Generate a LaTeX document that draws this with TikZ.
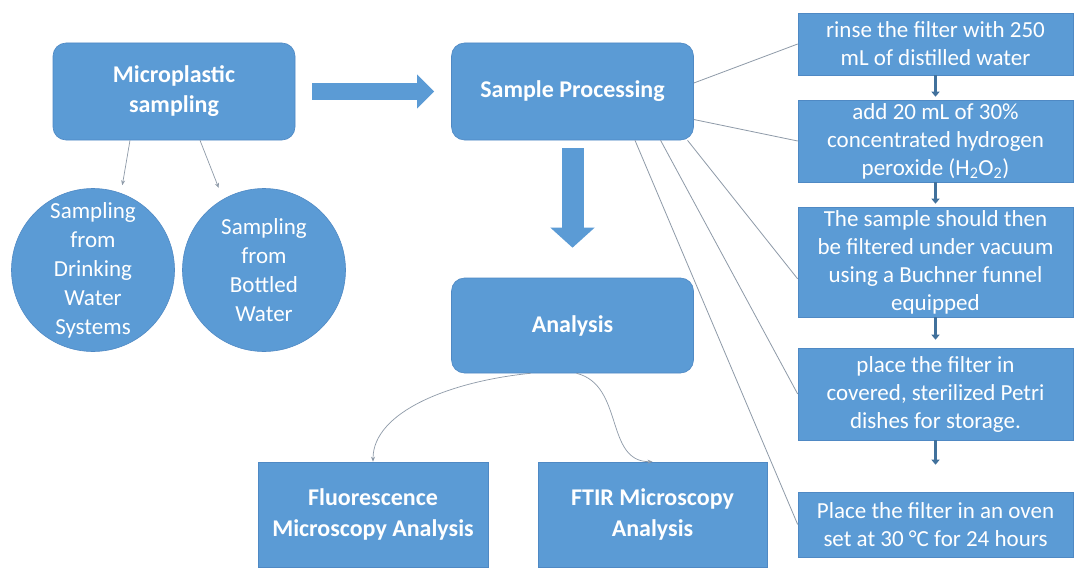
\documentclass[tikz,border=0pt]{standalone}
\usepackage{fontspec}
\setmainfont{Carlito}
\usetikzlibrary{arrows.meta,positioning}
\definecolor{boxblue}{HTML}{5B9BD5}
\definecolor{edgeblue}{HTML}{4F89C4}
\definecolor{stemblue}{HTML}{41719C}
\definecolor{linkgray}{HTML}{8E9AA8}

\begin{document}
\begin{tikzpicture}[
  x=1pt, y=-1pt,
  every node/.style={text=white, fill=boxblue, draw=edgeblue, line width=0.6pt, align=center, inner sep=0pt},
  mainbox/.style={rounded corners=13pt, minimum width=242pt, minimum height=97pt, font=\fontsize{24}{30}\selectfont\bfseries},
  stepbox/.style={minimum width=275pt, font=\fontsize{23}{28}\selectfont},
  endbox/.style={minimum width=230pt, minimum height=105pt, font=\fontsize{24}{31}\selectfont\bfseries},
  sitecircle/.style={circle, minimum size=163pt, font=\fontsize{23}{29}\selectfont},
  bigarrow/.style={boxblue, -{Triangle[length=17pt,width=33pt]}},
  thinarrow/.style={linkgray, line width=0.7pt, -{Stealth[length=5pt,width=4pt]}},
  link/.style={linkgray, line width=0.8pt},
  steparrow/.style={stemblue, line width=2.5pt, -{Triangle[length=5pt,width=8pt]}}
]
\useasboundingbox[fill=white] (0,0) rectangle (1075,567);

% main flow
\node[mainbox] (msamp) at (174,91.5) {Microplastic\\sampling};
\node[mainbox] (sproc) at (572.5,91.5) {Sample Processing};
\node[mainbox, minimum height=95pt] (an) at (572.5,325.5) {Analysis};

% sampling sites
\node[sitecircle] (c1) at (93,270) {Sampling\\from\\Drinking\\Water\\Systems};
\node[sitecircle] (c2) at (264,270) {Sampling\\from\\Bottled\\Water};

% analysis methods
\node[endbox] (fl) at (373,514.5) {Fluorescence\\Microscopy Analysis};
\node[endbox, minimum width=229pt] (ftir) at (652.5,514.5) {FTIR Microscopy\\Analysis};

% processing steps
\node[stepbox, minimum height=62pt] (r1) at (935.5,44) {rinse the filter with 250\\mL of distilled water};
\node[stepbox, minimum height=82pt] (r2) at (935.5,141) {add 20 mL of 30\%\\concentrated hydrogen\\peroxide (H\textsubscript{2}O\textsubscript{2})};
\node[stepbox, minimum height=110pt] (r3) at (935.5,262) {The sample should then\\be filtered under vacuum\\using a Buchner funnel\\equipped};
\node[stepbox, minimum height=92pt] (r4) at (935.5,394) {place the filter in\\covered, sterilized Petri\\dishes for storage.};
\node[stepbox, minimum height=65pt] (r5) at (935.5,524.5) {Place the filter in an oven\\set at 30 °C for 24 hours};

\draw[bigarrow, line width=17pt, shorten <=17pt, shorten >=17pt] (msamp.east) -- (sproc.west);
\draw[bigarrow, line width=22pt, -{Triangle[length=20pt,width=43pt]}, shorten <=8pt, shorten >=30pt] (sproc.south) -- (an.north);

\draw[thinarrow, shorten >=8pt] ([xshift=-44pt]msamp.south) -- (c1.70);
\draw[thinarrow, shorten >=12pt] ([xshift=26pt]msamp.south) -- (c2.120);

\draw[thinarrow] ([xshift=-42pt]an.south) .. controls +(-80,8) and +(0,-50) .. (fl.north);
\draw[thinarrow] ([xshift=4pt]an.south) .. controls +(48,12) and +(-48,0) .. (ftir.north);

\draw[link] (sproc.4) -- (r1.west);
\draw[link] (sproc.-13) -- (r2.west);
\draw[link] (sproc.-23.3) -- (r3.187);
\draw[link] (sproc.-29) -- (r4.west);
\draw[link] (sproc.-38.7) -- (r5.west);

\draw[steparrow, shorten >=3pt] (r1.south) -- (r2.north);
\draw[steparrow, shorten >=3pt] (r2.south) -- (r3.north);
\draw[steparrow, shorten >=8pt] (r3.south) -- (r4.north);
\draw[steparrow, shorten >=27pt] (r4.south) -- (r5.north);
\end{tikzpicture}
\end{document}
